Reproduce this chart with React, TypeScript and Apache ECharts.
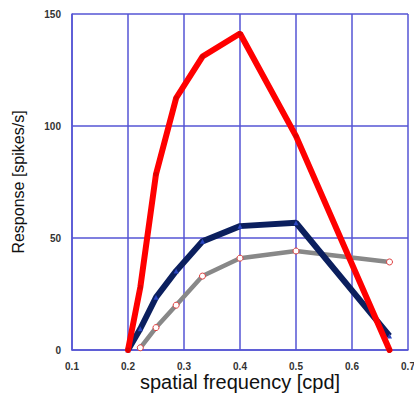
import React, { useEffect, useRef } from "react";
import * as echarts from "echarts";

const freqs = [0.2, 0.222, 0.25, 0.286, 0.333, 0.4, 0.5, 0.667];
const redValues = [0, 28, 78.5, 112.5, 131, 141.3, 95.5, 0];
const navyValues = [0, 9.5, 23.5, 35.3, 48.5, 55.3, 56.8, 6.3];
const grayFreqs = [0.222, 0.25, 0.286, 0.333, 0.4, 0.5, 0.667];
const grayValues = [1, 10, 20, 33, 41, 44.2, 39.3];
const xTicks = [0.1, 0.2, 0.3, 0.4, 0.5, 0.6, 0.7];
const xTitle = "spatial frequency [cpd]";
const yTitle = "Response [spikes/s]";

const pairs = (xs: number[], ys: number[]) => xs.map((x, i) => [x, ys[i]]);

export default function App() {
  const ref = useRef<HTMLDivElement>(null);
  useEffect(() => {
    const chart = echarts.init(ref.current!, null, { renderer: "svg" });
    const font = "'Liberation Sans', Arial, sans-serif";
    const gridColor = "#5555d4";
    chart.setOption({
      animation: false,
      backgroundColor: "#ffffff",
      grid: { left: 72, right: 6, top: 14, bottom: 45, outerBoundsMode: "none", containLabel: false },
      graphic: [
        {
          type: "text",
          x: 240,
          y: 382,
          style: {
            text: xTitle,
            fontSize: 20,
            fontFamily: font,
            fill: "#111",
            textAlign: "center",
            textVerticalAlign: "middle",
          },
        },
      ],
      xAxis: {
        type: "value",
        min: 0.1,
        max: 0.7,
        interval: 0.1,
        axisLine: { show: true, lineStyle: { color: gridColor, width: 1.5 } },
        axisTick: { show: false },
        axisLabel: {
          fontSize: 10,
          color: "#333",
          fontWeight: "bold",
          margin: 11,
          fontFamily: font,
          formatter: (v: number) => {
            const t = xTicks.find((x) => Math.abs(x - v) < 1e-6);
            return t !== undefined ? t.toFixed(1) : "";
          },
        },
        splitLine: { show: true, lineStyle: { color: gridColor, width: 1.5 } },
      },
      yAxis: {
        type: "value",
        min: 0,
        max: 150,
        interval: 50,
        name: yTitle,
        nameLocation: "middle",
        nameGap: 46,
        nameTextStyle: { fontSize: 16, color: "#111", fontFamily: font },
        axisLine: { show: true, lineStyle: { color: gridColor, width: 1.5 } },
        axisTick: { show: false },
        axisLabel: { fontSize: 10, color: "#333", fontWeight: "bold", margin: 11, fontFamily: font },
        splitLine: { show: true, lineStyle: { color: gridColor, width: 1.5 } },
        minorTick: { show: false, splitNumber: 5 },
        minorSplitLine: { show: true, lineStyle: { color: "#ffffff", width: 1 } },
      },
      series: [
        {
          type: "line",
          data: pairs(grayFreqs, grayValues),
          lineStyle: { color: "#888888", width: 4.5 },
          symbol: "circle",
          symbolSize: 6,
          itemStyle: { color: "#ffffff", borderColor: "#e04040", borderWidth: 1 },
          z: 3,
        },
        {
          type: "line",
          data: pairs(freqs, navyValues),
          lineStyle: { color: "#0b1f5e", width: 6 },
          symbol: "triangle",
          symbolSize: 5,
          itemStyle: { color: "#2a45c0" },
          z: 4,
        },
        {
          type: "line",
          data: pairs(freqs, redValues),
          lineStyle: { color: "#ff0000", width: 6, cap: "round" },
          symbol: "circle",
          symbolSize: 5,
          itemStyle: { color: "#e00000" },
          z: 5,
        },
      ],
    });
    return () => chart.dispose();
  }, []);
  return (
    <div
      ref={ref}
      style={{ position: "fixed", left: 0, top: 0, width: 414, height: 395 }}
    />
  );
}
